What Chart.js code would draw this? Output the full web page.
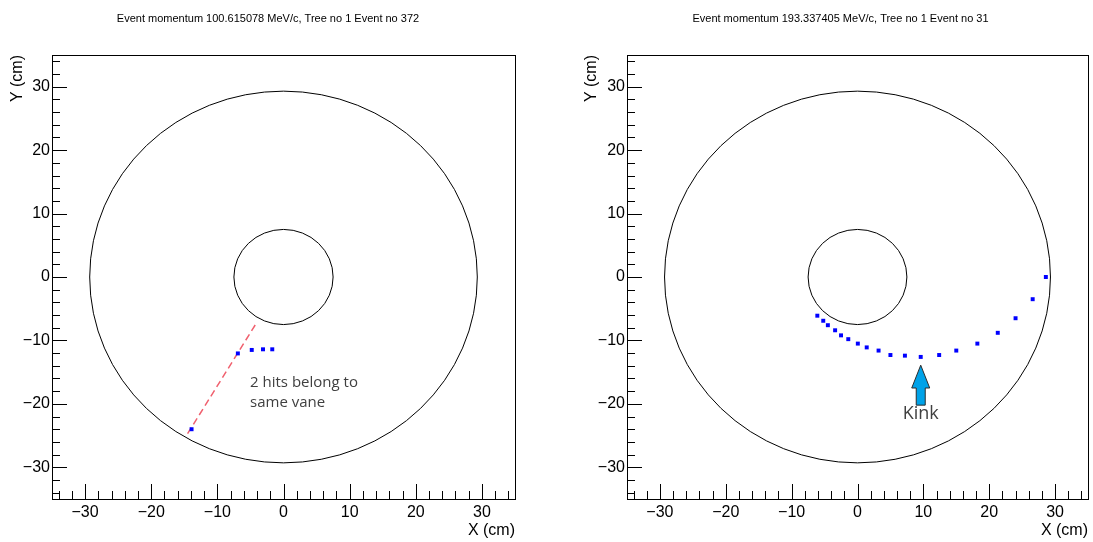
<!DOCTYPE html>
<html>
<head>
<meta charset="utf-8">
<script src="https://cdn.jsdelivr.net/npm/chart.js@4.4.1/dist/chart.umd.min.js"></script>
<style>
  body { margin: 0; background: #fff; }
  #wrap { position: relative; width: 1093px; height: 542px; }
  canvas { position: absolute; top: 0; }
</style>
</head>
<body>
<div id="wrap">
  <canvas id="leftChart" width="546" height="542" style="left:0"></canvas>
  <canvas id="rightChart" width="547" height="542" style="left:546px"></canvas>
</div>
<script>
// axis ticks (cm)
var tickValues = [-30, -20, -10, 0, 10, 20, 30];
var minorStep = 2;
// detector rings (cm)
var ringRadii = [7.5, 29.3];

// event 372 hits
var leftHitsX = [-13.9, -6.9, -4.8, -3.1, -1.7];
var leftHitsY = [-24.0, -12.05, -11.5, -11.4, -11.4];
// same-vane line
var leftVaneX = [-14.5, -4.0];
var leftVaneY = [-24.7, -7.1];

// event 31 hits
var rightHitsX = [-6.1, -5.2, -4.5, -3.4, -2.5, -1.4, 0.05, 1.4, 3.2, 5.0, 7.2, 9.6, 12.4, 15.0, 18.2, 21.3, 24.0, 26.6, 28.6];
var rightHitsY = [-6.1, -6.9, -7.6, -8.4, -9.2, -9.8, -10.5, -11.1, -11.6, -12.3, -12.4, -12.6, -12.3, -11.6, -10.5, -8.8, -6.5, -3.5, 0.0];

var leftTitle = 'Event momentum 100.615078 MeV/c, Tree no 1 Event no 372';
var rightTitle = 'Event momentum 193.337405 MeV/c, Tree no 1 Event no 31';

function pts(xs, ys) {
    return xs.map(function (x, i) { return {x: x, y: ys[i]}; });
}

var axisFont = "'Liberation Sans', Arial, Helvetica, sans-serif";
var noteFont = "'Open Sans', 'Noto Sans', sans-serif";

// ROOT style frame: box, inward ticks, rings
var rootFrame = {
    id: 'rootFrame',
    afterDraw: function (chart) {
        var ctx = chart.ctx, a = chart.chartArea;
        var xs = chart.scales.x, ys = chart.scales.y;
        ctx.save();
        ctx.strokeStyle = '#000';
        ctx.lineWidth = 1;
        // rings
        var cx = xs.getPixelForValue(0), cy = ys.getPixelForValue(0);
        ringRadii.forEach(function (r) {
            var rx = Math.abs(xs.getPixelForValue(r) - cx);
            var ry = Math.abs(ys.getPixelForValue(r) - cy);
            ctx.beginPath();
            ctx.ellipse(cx, cy, rx, ry, 0, 0, Math.PI * 2);
            ctx.stroke();
        });
        // frame
        ctx.strokeRect(Math.round(a.left) + 0.5, Math.round(a.top) + 0.5,
            Math.round(a.right - a.left), Math.round(a.bottom - a.top));
        // ticks
        ctx.beginPath();
        for (var v = -34; v <= 34; v += minorStep) {
            var len = tickValues.indexOf(v) >= 0 ? 15 : 8;
            var px = Math.round(xs.getPixelForValue(v)) + 0.5;
            ctx.moveTo(px, a.bottom);
            ctx.lineTo(px, a.bottom - len);
            var py = Math.round(ys.getPixelForValue(v)) + 0.5;
            ctx.moveTo(a.left, py);
            ctx.lineTo(a.left + len, py);
        }
        ctx.stroke();
        ctx.restore();
    }
};

// hand annotations (text + arrow)
var notes = {
    id: 'notes',
    afterDraw: function (chart, args, opts) {
        var ctx = chart.ctx;
        var xs = chart.scales.x, ys = chart.scales.y;
        ctx.save();
        (opts.texts || []).forEach(function (t) {
            ctx.font = t.size + 'px ' + noteFont;
            ctx.fillStyle = '#404040';
            ctx.textAlign = t.align;
            ctx.textBaseline = 'middle';
            var x = xs.getPixelForValue(t.x), y = ys.getPixelForValue(t.y);
            t.lines.forEach(function (line, i) {
                ctx.fillText(line, x, y + i * t.lineGap);
            });
        });
        if (opts.arrow) {
            var ar = opts.arrow;
            var x = xs.getPixelForValue(ar.x);
            var tip = ys.getPixelForValue(ar.tip);
            var neck = ys.getPixelForValue(ar.neck);
            var base = ys.getPixelForValue(ar.base);
            ctx.beginPath();
            ctx.moveTo(x, tip);
            ctx.lineTo(x + 9, neck);
            ctx.lineTo(x + 4.5, neck);
            ctx.lineTo(x + 4.5, base);
            ctx.lineTo(x - 4.5, base);
            ctx.lineTo(x - 4.5, neck);
            ctx.lineTo(x - 9, neck);
            ctx.closePath();
            ctx.fillStyle = '#00a2e8';
            ctx.fill();
            ctx.strokeStyle = '#2b2b2b';
            ctx.lineWidth = 1;
            ctx.stroke();
        }
        ctx.restore();
    }
};

function tickText(v) {
    return v < 0 ? '\u2212' + Math.abs(v) : String(v);
}

function drawPanel(id, title, datasets, padL, frameLeft, padR, yTitlePad, noteOpts) {
    var yWidth = frameLeft - padL;
    return new Chart(document.getElementById(id), {
        type: 'scatter',
        data: {datasets: datasets},
        plugins: [rootFrame, notes],
        options: {
            responsive: false,
            animation: false,
            layout: {padding: {left: padL, right: padR, top: 0, bottom: 0}},
            plugins: {
                legend: {display: false},
                tooltip: {enabled: false},
                title: {
                    display: true,
                    text: title,
                    color: '#000',
                    font: {family: axisFont, size: 11, weight: 'normal'},
                    padding: {top: 12, bottom: 29.8}
                },
                notes: noteOpts
            },
            scales: {
                x: {
                    type: 'linear', min: -35, max: 35,
                    afterBuildTicks: function (s) { s.ticks = tickValues.map(function (v) { return {value: v}; }); },
                    afterFit: function (s) { s.height = 43; },
                    grid: {display: false, drawTicks: false},
                    border: {display: false},
                    ticks: {
                        padding: 4, color: '#000', maxRotation: 0, autoSkip: false,
                        font: {family: axisFont, size: 16},
                        callback: tickText
                    },
                    title: {
                        display: true, text: 'X (cm)', align: 'end', color: '#000',
                        font: {family: axisFont, size: 16},
                        padding: {top: 0, bottom: 2}
                    }
                },
                y: {
                    type: 'linear', min: -35, max: 35,
                    afterBuildTicks: function (s) { s.ticks = tickValues.map(function (v) { return {value: v}; }); },
                    afterFit: function (s) { s.width = yWidth; },
                    grid: {display: false, drawTicks: false},
                    border: {display: false},
                    ticks: {
                        padding: 2, color: '#000', autoSkip: false,
                        font: {family: axisFont, size: 16},
                        callback: tickText
                    },
                    title: {
                        display: true, text: 'Y (cm)', align: 'end', color: '#000',
                        font: {family: axisFont, size: 16},
                        padding: {top: yTitlePad, bottom: 0}
                    }
                }
            }
        }
    });
}

drawPanel('leftChart', leftTitle, [
    {
        label: 'hits', data: pts(leftHitsX, leftHitsY),
        pointStyle: 'rect', pointRadius: 2.8, backgroundColor: '#0000ff', borderWidth: 0
    },
    {
        label: 'vane', data: pts(leftVaneX, leftVaneY), showLine: true,
        borderColor: '#f0606e', borderWidth: 1.5, borderDash: [7, 4], pointRadius: 0
    }
], 21, 52, 31, -12.6, {
    texts: [{x: -5.06, y: -16.7, align: 'left', size: 15, lineGap: 20, lines: ['2 hits belong to', 'same vane']}]
});

drawPanel('rightChart', rightTitle, [
    {
        label: 'hits', data: pts(rightHitsX, rightHitsY),
        pointStyle: 'rect', pointRadius: 2.8, backgroundColor: '#0000ff', borderWidth: 0
    }
], 47, 81, 5, -10.6, {
    texts: [{x: 9.6, y: -21.6, align: 'center', size: 18, lineGap: 0, lines: ['Kink']}],
    arrow: {x: 9.6, tip: -13.9, neck: -17.5, base: -20.2}
});
</script>
</body>
</html>
